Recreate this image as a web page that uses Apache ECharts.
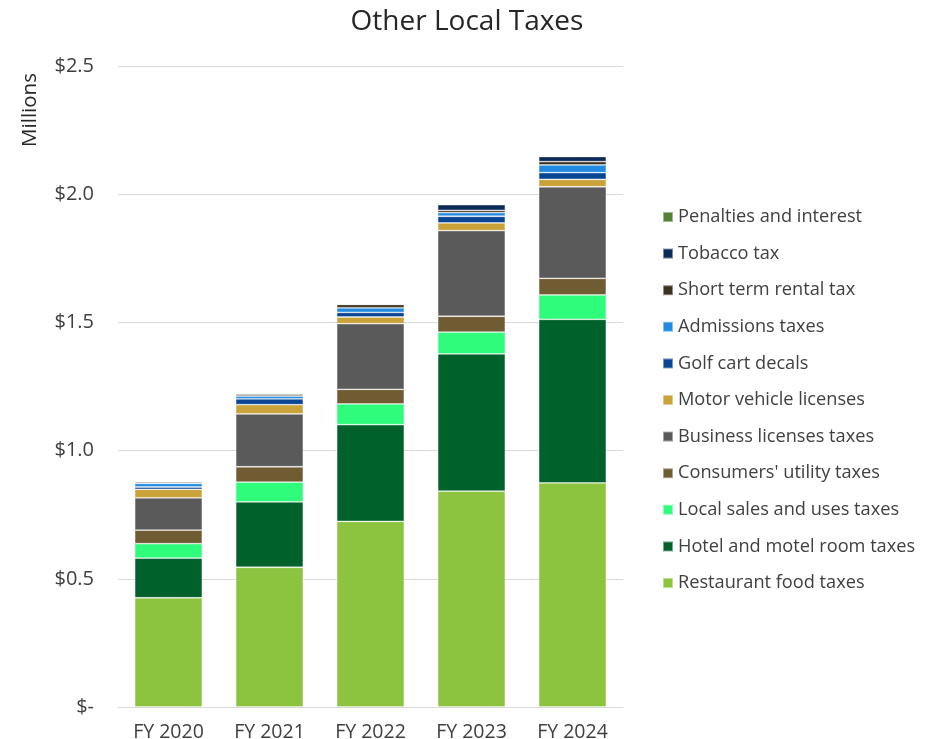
<!DOCTYPE html>
<html>
<head>
<meta charset="utf-8">
<script src="https://cdn.jsdelivr.net/npm/echarts@6/dist/echarts.min.js"></script>
<style>
  html, body { margin: 0; padding: 0; background: #fff; }
  #chart { width: 934px; height: 739px; }
</style>
</head>
<body>
<div id="chart"></div>
<script>
// Fiscal years on the x axis
const years = ['FY 2020', 'FY 2021', 'FY 2022', 'FY 2023', 'FY 2024'];

// Revenue by tax type, in millions of dollars (stacked bottom to top)
const restaurantFood   = [0.426, 0.545, 0.724, 0.842, 0.874];
const hotelMotel       = [0.155, 0.255, 0.377, 0.535, 0.638];
const localSalesUse    = [0.056, 0.077, 0.081, 0.085, 0.095];
const consumersUtility = [0.053, 0.060, 0.057, 0.062, 0.065];
const businessLicenses = [0.126, 0.206, 0.256, 0.334, 0.357];
const motorVehicle     = [0.033, 0.036, 0.026, 0.030, 0.029];
const golfCart         = [0.009, 0.023, 0.018, 0.026, 0.026];
const admissions       = [0.014, 0.011, 0.018, 0.014, 0.030];
const shortTermRental  = [0.006, 0.008, 0.013, 0.009, 0.013];
const tobacco          = [0.000, 0.000, 0.000, 0.022, 0.020];
const penalties        = [0.000, 0.000, 0.003, 0.002, 0.002];

// Axis ticks
const yTicks = [0, 0.5, 1.0, 1.5, 2.0, 2.5];

const seriesDefs = [
  { name: 'Restaurant food taxes',        data: restaurantFood,   color: '#8CC43F' },
  { name: 'Hotel and motel room taxes',   data: hotelMotel,       color: '#00612A' },
  { name: 'Local sales and uses taxes',   data: localSalesUse,    color: '#2FFC7A' },
  { name: "Consumers' utility taxes",     data: consumersUtility, color: '#705C33' },
  { name: 'Business licenses taxes',      data: businessLicenses, color: '#5A5A5A' },
  { name: 'Motor vehicle licenses',       data: motorVehicle,     color: '#C9A23A' },
  { name: 'Golf cart decals',             data: golfCart,         color: '#0B4694' },
  { name: 'Admissions taxes',             data: admissions,       color: '#228BE0' },
  { name: 'Short term rental tax',        data: shortTermRental,  color: '#3D3220' },
  { name: 'Tobacco tax',                  data: tobacco,          color: '#0C2B58' },
  { name: 'Penalties and interest',       data: penalties,        color: '#538135' }
];

const font = 'Open Sans, Liberation Sans, sans-serif';
const textColor = '#404040';

const chart = echarts.init(document.getElementById('chart'));
chart.setOption({
  animation: false,
  title: {
    text: 'Other Local Taxes',
    left: 462,
    textAlign: 'center',
    top: 3,
    textStyle: { fontFamily: font, fontSize: 28, fontWeight: 'normal', color: '#262626' }
  },
  graphic: [{
    // rotated axis unit label
    type: 'text',
    x: 30,
    y: 110,
    rotation: Math.PI / 2,
    style: {
      text: 'Millions',
      align: 'center',
      verticalAlign: 'middle',
      fontFamily: font,
      fontSize: 20.5,
      fill: '#262626'
    }
  }],
  grid: { left: 118, right: 311, top: 66, bottom: 32, outerBoundsMode: 'none' },
  legend: {
    orient: 'vertical',
    left: 657,
    top: 202,
    itemWidth: 10,
    itemHeight: 10,
    itemGap: 16.6,
    icon: 'rect',
    data: seriesDefs.map(s => s.name).reverse(),
    textStyle: { fontFamily: font, fontSize: 18.2, color: textColor, lineHeight: 20, padding: [0, 0, 0, 0] }
  },
  xAxis: {
    type: 'category',
    data: years,
    axisTick: { show: false },
    axisLine: { lineStyle: { color: '#D9D9D9', width: 1 } },
    axisLabel: { fontFamily: font, fontSize: 19.5, color: textColor, margin: 15 }
  },
  yAxis: {
    type: 'value',
    min: yTicks[0],
    max: yTicks[yTicks.length - 1],
    interval: 0.5,
    axisLine: { show: false },
    axisTick: { show: false },
    splitLine: { lineStyle: { color: '#D9D9D9', width: 1 } },
    axisLabel: {
      fontFamily: font, fontSize: 20, color: textColor, margin: 24,
      formatter: v => v === 0 ? '$-' : '$' + v.toFixed(1)
    }
  },
  series: seriesDefs.map(s => ({
    name: s.name,
    type: 'bar',
    stack: 'total',
    data: s.data,
    barCategoryGap: '33%',
    itemStyle: { color: s.color, borderColor: 'rgba(255,255,255,0.45)', borderWidth: 0.8 }
  }))
});
</script>
</body>
</html>
